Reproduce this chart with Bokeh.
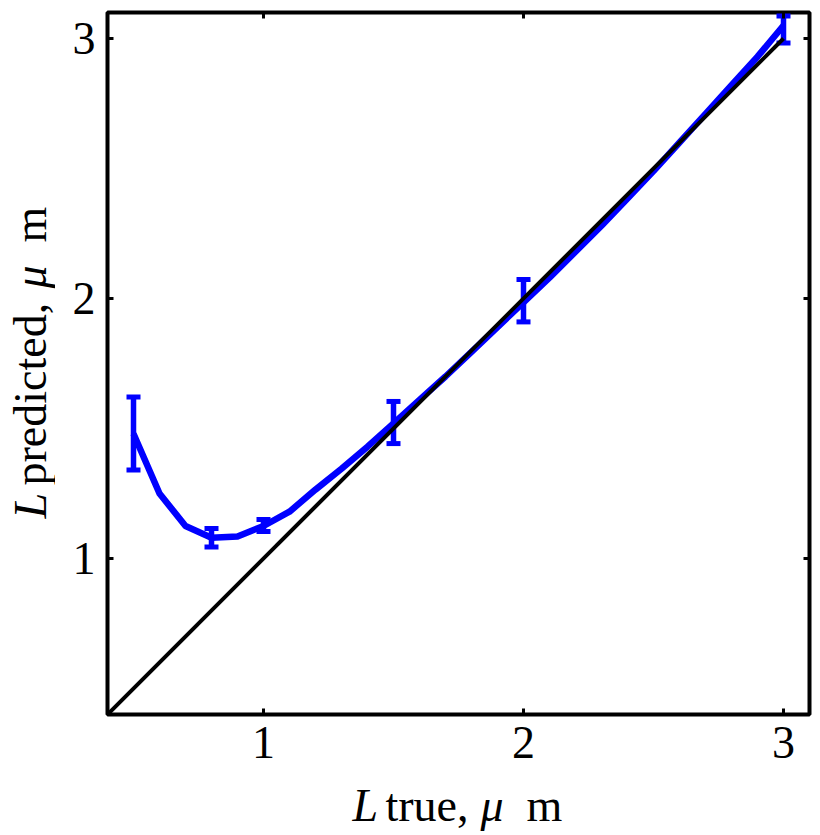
import math
from bokeh.plotting import figure
from bokeh.models import Range1d, FixedTicker, LinearAxis
from bokeh.layouts import column, row
from bokeh.core.properties import value
from bokeh.embed import file_html
from bokeh.resources import INLINE

# ---- data ----
x_curve = [0.5, 0.6, 0.7, 0.8, 0.9, 1.0, 1.1, 1.2, 1.3, 1.4, 1.5, 1.6, 1.7,
           1.8, 1.9, 2.0, 2.1, 2.2, 2.3, 2.4, 2.5, 2.6, 2.7, 2.8, 2.9, 3.0]
y_curve = [1.48, 1.25, 1.125, 1.08, 1.085, 1.125, 1.18, 1.265, 1.345, 1.43,
           1.52, 1.61, 1.70, 1.795, 1.89, 1.985, 2.08, 2.18, 2.28, 2.385,
           2.49, 2.60, 2.71, 2.82, 2.93, 3.05]

x_err = [0.5, 0.8, 1.0, 1.5, 2.0, 3.0]
y_err_low = [1.34, 1.044, 1.104, 1.442, 1.91, 2.983]
y_err_high = [1.621, 1.115, 1.15, 1.604, 2.073, 3.087]

x_diag = [0.4, 3.0]
y_diag = [0.4, 3.0]

ticks = [1, 2, 3]

x_label_parts = ["L", "true,", "\u03bc", "m"]
y_label_parts = ["L", "predicted,", "\u03bc", "m"]
label_italic = [True, False, True, False]

FONT = "Liberation Serif"
FS = "46px"
BLUE = "#0000FF"

# ---- layout sizes (px) ----
YLAB_W = 55
P_LEFT, P_TOP, P_RIGHT, P_BOTTOM = 52, 12, 9, 66
FRAME = 702
P_W = P_LEFT + FRAME + P_RIGHT
P_H = P_TOP + FRAME + P_BOTTOM
XLAB_H = 52

p = figure(frame_width=FRAME, frame_height=FRAME,
           x_range=Range1d(0.4, 3.1), y_range=Range1d(0.4, 3.1),
           output_backend="svg", toolbar_location=None,
           min_border_left=P_LEFT, min_border_right=P_RIGHT,
           min_border_top=P_TOP, min_border_bottom=P_BOTTOM)
p.xgrid.visible = False
p.ygrid.visible = False
p.background_fill_color = "white"
p.border_fill_color = "white"
p.outline_line_color = "black"
p.outline_line_width = 4

for ax in list(p.xaxis) + list(p.yaxis):
    ax.ticker = FixedTicker(ticks=ticks)
    ax.axis_line_color = None
    ax.major_tick_in = 6
    ax.major_tick_out = 0
    ax.major_tick_line_width = 3
    ax.major_tick_line_color = "black"
    ax.minor_tick_line_color = None
    ax.major_label_text_font = FONT
    ax.major_label_text_font_size = FS
    ax.major_label_text_color = "black"
p.yaxis.major_label_standoff = 12
p.xaxis.major_label_standoff = 12

for loc in ("above", "right"):
    ax = LinearAxis(ticker=FixedTicker(ticks=ticks), axis_line_color=None,
                    major_tick_in=6, major_tick_out=0, major_tick_line_width=3,
                    minor_tick_line_color=None, major_label_standoff=0,
                    major_label_overrides={t: "" for t in ticks},
                    major_label_text_font_size="1px")
    p.add_layout(ax, loc)

# blue curve
p.line(x_curve, y_curve, line_color=BLUE, line_width=6.5, line_join="round")
# error bars
p.segment(x0=x_err, y0=y_err_low, x1=x_err, y1=y_err_high,
          line_color=BLUE, line_width=5.5)
p.scatter(x_err, y_err_low, marker="dash", size=14, line_width=5,
          line_color=BLUE)
p.scatter(x_err, y_err_high, marker="dash", size=14, line_width=5,
          line_color=BLUE)
# identity line
p.line(x_diag, y_diag, line_color="black", line_width=4)


def blank(w, h, y0=0, y1=None):
    f = figure(width=w, height=h, x_range=Range1d(0, w),
               y_range=Range1d(y0, h if y1 is None else y1),
               x_axis_location=None, y_axis_location=None, min_border=0,
               toolbar_location=None, output_backend="svg", title=None)
    f.grid.visible = False
    f.outline_line_color = None
    f.background_fill_color = "white"
    f.border_fill_color = "white"
    return f


# y label figure (text reads bottom to top); its frame is aligned with p's
# frame in the row, so its y range covers only the frame part of the height
ylab = blank(YLAB_W, P_H, P_BOTTOM, P_H - P_TOP)
y_offsets = [0, 33, 230, 276]
y_start = P_H - 518
for t, off, it in zip(y_label_parts, y_offsets, label_italic):
    ylab.text(x=[30], y=[y_start + off], text=[t], angle=math.pi / 2,
              text_font=value(FONT), text_font_size=FS,
              text_font_style="italic" if it else "normal",
              text_color="black", text_align="left",
              text_baseline="alphabetic")

# x label figure
xlab = blank(YLAB_W + P_W, XLAB_H)
x_offsets = [0, 33, 128, 174]
x_start = 352
for t, off, it in zip(x_label_parts, x_offsets, label_italic):
    xlab.text(x=[x_start + off], y=[27], text=[t],
              text_font=value(FONT), text_font_size=FS,
              text_font_style="italic" if it else "normal",
              text_color="black", text_align="left",
              text_baseline="alphabetic")

layout = column(row(ylab, p), xlab)
open("out.html", "w").write(file_html(layout, INLINE))
